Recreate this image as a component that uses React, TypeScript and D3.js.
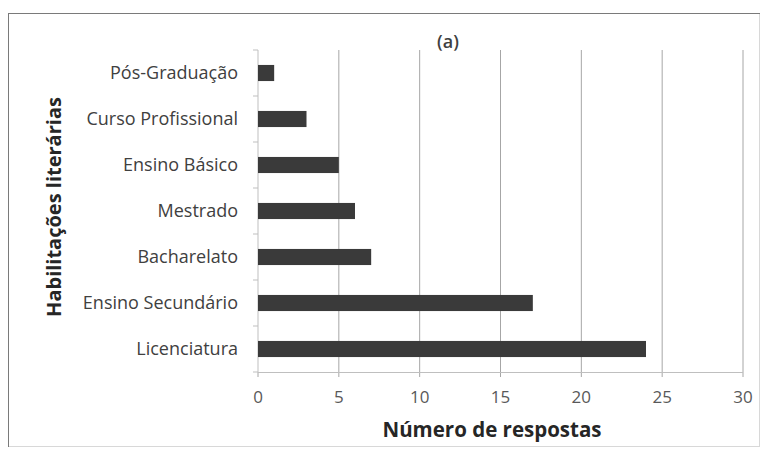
import React from "react";
import * as d3 from "d3";

const categories = ["Pós-Graduação", "Curso Profissional", "Ensino Básico", "Mestrado", "Bacharelato", "Ensino Secundário", "Licenciatura"];
const values = [1, 3, 5, 6, 7, 17, 24];
const xTicks = [0, 5, 10, 15, 20, 25, 30];
const title = "(a)";
const xTitle = "Número de respostas";
const yTitle = "Habilitações literárias";

const W = 762, H = 450;
const left = 258, right = 743, top = 50, bottom = 372;
const font = "'Open Sans', 'DejaVu Sans', sans-serif";

export default function App() {
  const x = d3.scaleLinear().domain([0, 30]).range([left, right]);
  const y = d3.scaleBand().domain(categories).range([top, bottom]).paddingInner(0.65).paddingOuter(0.325);
  const yb = d3.scaleBand().domain(categories).range([top, bottom]);
  return (
    <svg width={W} height={H} style={{ position: "absolute", left: 0, top: 0 }} fontFamily={font}>
      <rect x={0} y={0} width={W} height={H} fill="#fff" />
      <rect x={8.5} y={13.5} width={751} height={433} fill="none" stroke="#d8d8d8" />
      <line x1={8} x2={760} y1={13.5} y2={13.5} stroke="#7a7a7a" />
      <line x1={8.5} x2={8.5} y1={13} y2={447} stroke="#7a7a7a" />
      {xTicks.map((t) => (
        <g key={t}>
          {t > 0 && <line x1={x(t)} x2={x(t)} y1={top} y2={bottom} stroke="#a6a6a6" strokeWidth={1} />}
          <line x1={x(t)} x2={x(t)} y1={bottom} y2={bottom + 5} stroke="#a6a6a6" />
          <text x={x(t)} y={bottom + 31} textAnchor="middle" fontSize={17} fill="#595959">{t}</text>
        </g>
      ))}
      <line x1={left} x2={right} y1={bottom + 0.5} y2={bottom + 0.5} stroke="#bfbfbf" />
      <line x1={left} x2={left} y1={top} y2={bottom} stroke="#bfbfbf" />
      {categories.map((c) => (
        <line key={"t" + c} x1={left - 5} x2={left} y1={yb(c)!} y2={yb(c)!} stroke="#bfbfbf" />
      ))}
      <line x1={left - 5} x2={left} y1={bottom} y2={bottom} stroke="#bfbfbf" />
      {categories.map((c, i) => (
        <g key={c}>
          <rect x={x(0)} y={y(c)!} width={x(values[i]) - x(0)} height={y.bandwidth()} fill="#3a3a3a" />
          <text x={238} y={y(c)! + y.bandwidth() / 2} dy="0.35em" textAnchor="end" fontSize={18} fill="#404040">{c}</text>
        </g>
      ))}
      <text x={448} y={48} textAnchor="middle" fontSize={18} fontWeight="600" fill="#404040">{title}</text>
      <text x={492} y={437} textAnchor="middle" fontSize={20.5} fontWeight="bold" fill="#262626">{xTitle}</text>
      <text transform={`translate(61,207) rotate(-90)`} textAnchor="middle" fontSize={20} fontWeight="bold" fill="#262626">{yTitle}</text>
    </svg>
  );
}
